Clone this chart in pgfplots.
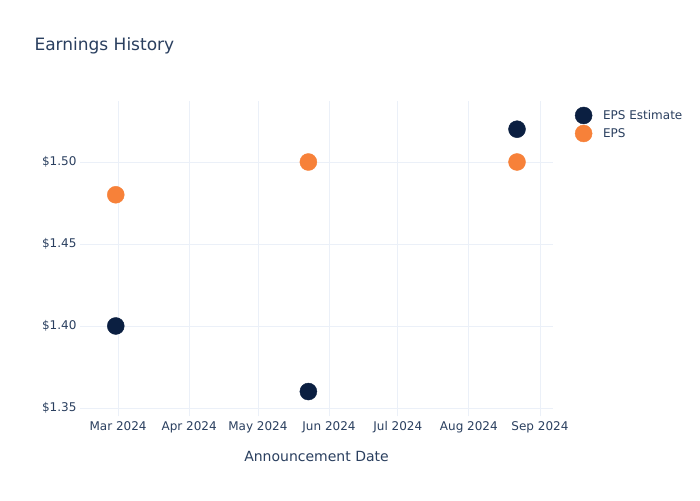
\documentclass[border=0pt]{standalone}
\usepackage{pgfplots}
\pgfplotsset{compat=1.18}
\usepackage{fontspec}
\setmainfont{DejaVu Sans}
\definecolor{navy}{RGB}{11,31,65}
\definecolor{eorange}{RGB}{247,129,57}
\definecolor{ptext}{RGB}{42,63,95}
\definecolor{pgrid}{RGB}{235,240,248}
\begin{document}
\begin{tikzpicture}[x=1pt,y=1pt]
\path[use as bounding box,fill=white] (0,0) rectangle (700,500);
\node[anchor=west,text=ptext,font=\fontsize{17}{20}\selectfont] at (31,454) {Earnings History};
\begin{axis}[
  at={(80pt,84pt)}, anchor=south west,
  scale only axis, width=473pt, height=315pt,
  xmin=-16.6, xmax=189.7, ymin=1.3451, ymax=1.5372,
  axis line style={draw=none},
  tick style={draw=none},
  grid=major, grid style={pgrid, line width=0.8pt},
  xtick={0,31,61,92,122,153,184},
  xticklabels={Mar 2024,Apr 2024,May 2024,Jun 2024,Jul 2024,Aug 2024,Sep 2024},
  ytick={1.35,1.40,1.45,1.50},
  yticklabels={\$1.35,\$1.40,\$1.45,\$1.50},
  ticklabel style={text=ptext,font=\fontsize{12}{14}\selectfont},
  xticklabel style={yshift=-2pt},
  xlabel={Announcement Date},
  xlabel style={at={(axis description cs:0.5,-0.128)},anchor=center,text=ptext,font=\fontsize{14}{16}\selectfont},
  legend style={draw=none, fill=none, at={(1.040,0.988)}, anchor=north west,
    font=\fontsize{12}{14}\selectfont, text=ptext, row sep=1pt,
    /tikz/every odd column/.append style={column sep=9pt}},
  legend cell align=left,
  clip=false,
]
\addplot[only marks, mark=*, mark size=8.5pt, color=navy, mark options={draw=navy,fill=navy}]
  coordinates {(-1,1.40) (83,1.36) (174,1.52)};
\addlegendentry{EPS Estimate}
\addplot[only marks, mark=*, mark size=8.5pt, color=eorange, mark options={draw=eorange,fill=eorange}]
  coordinates {(-1,1.48) (83,1.50) (174,1.50)};
\addlegendentry{EPS}
\end{axis}
\end{tikzpicture}
\end{document}
